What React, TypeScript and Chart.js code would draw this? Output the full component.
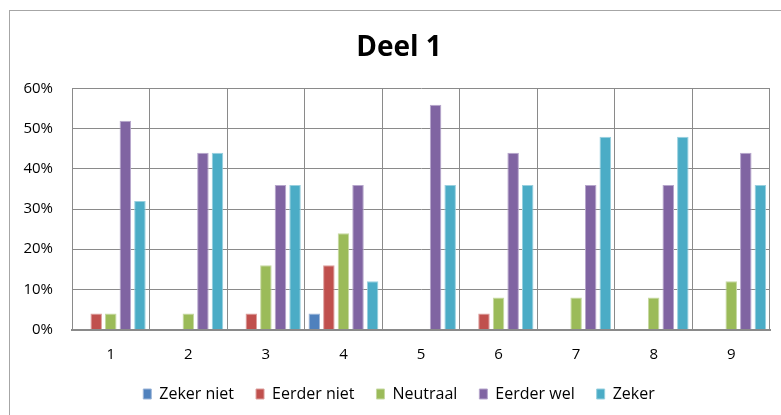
import React, { useEffect, useRef } from "react";
import { Chart, registerables } from "chart.js";

Chart.register(...registerables);

// Survey answers per question, in percent
const categories = ["1", "2", "3", "4", "5", "6", "7", "8", "9"];
const seriesNames = ["Zeker niet", "Eerder niet", "Neutraal", "Eerder wel", "Zeker"];
const zekerNiet = [0, 0, 0, 4, 0, 0, 0, 0, 0];
const eerderNiet = [4, 0, 4, 16, 0, 4, 0, 0, 0];
const neutraal = [4, 4, 16, 24, 0, 8, 8, 8, 12];
const eerderWel = [52, 44, 36, 36, 56, 44, 36, 36, 44];
const zeker = [32, 44, 36, 12, 36, 36, 48, 48, 36];
const yTicks = [0, 10, 20, 30, 40, 50, 60];

const fills = ["#4F81BD", "#C0504D", "#9BBB59", "#8064A2", "#4BACC6"];
const edges = ["#9db5d8", "#dc9e9c", "#c6d9a2", "#b6a6cc", "#98d0df"];

const FONT = "'Open Sans', 'Liberation Sans', sans-serif";

// The chart object is wider than the visible window; its right part is cut off.
const CANVAS_W = 798;
const CANVAS_H = 415;

export default function App() {
  const ref = useRef<HTMLCanvasElement | null>(null);

  useEffect(() => {
    if (!ref.current) return;
    const series = [zekerNiet, eerderNiet, neutraal, eerderWel, zeker];
    const chart = new Chart(ref.current, {
      type: "bar",
      data: {
        labels: categories,
        datasets: series.map((values, i) => ({
          label: seriesNames[i],
          data: values,
          backgroundColor: fills[i],
          borderColor: edges[i],
          borderWidth: 1,
          categoryPercentage: 0.94,
          barPercentage: 0.79,
          yAxisID: "y",
        })),
      },
      options: {
        animation: false,
        responsive: false,
        devicePixelRatio: 1,
        layout: { padding: { left: 0, right: 0, top: 0, bottom: 3 } },
        plugins: {
          title: {
            display: true,
            text: "Deel 1",
            color: "#000",
            font: { family: FONT, size: 28, weight: "bold", lineHeight: 1.2 },
            padding: { top: 31, bottom: 24 },
          },
          legend: {
            display: true,
            position: "bottom",
            labels: {
              color: "#000",
              font: { family: FONT, size: 16 },
              boxWidth: 8,
              boxHeight: 10,
              padding: 22,
            },
          },
          tooltip: { enabled: false },
        },
        scales: {
          x: {
            afterFit: (axis: any) => {
              axis.height = 34.5;
            },
            grid: { color: "#8a8a8a", lineWidth: 1, drawTicks: false, offset: true },
            border: { color: "#8a8a8a", width: 2 },
            ticks: { color: "#000", font: { family: FONT, size: 15 }, padding: 16 },
          },
          y: {
            position: "left",
            min: 0,
            max: 60,
            afterBuildTicks: (axis: any) => {
              axis.ticks = yTicks.map((v) => ({ value: v }));
            },
            afterFit: (axis: any) => {
              axis.width = 72;
            },
            grid: { color: "#8a8a8a", lineWidth: 1, drawTicks: false },
            border: { color: "#8a8a8a", width: 1 },
            ticks: {
              color: "#000",
              font: { family: FONT, size: 15 },
              padding: 19,
              callback: (v: any) => `${v}%`,
            },
          },
          // empty margin on the right of the plot area
          margin: {
            position: "right",
            display: true,
            min: 0,
            max: 60,
            afterFit: (axis: any) => {
              axis.width = 28;
            },
            grid: { display: false, drawTicks: false },
            border: { display: false },
            ticks: { display: false },
          },
        },
      },
    });
    return () => chart.destroy();
  }, []);

  return (
    <div
      style={{
        position: "fixed",
        left: 0,
        top: 0,
        width: 781,
        height: 415,
        background: "#fff",
        overflow: "hidden",
      }}
    >
      <div
        style={{
          position: "absolute",
          left: 9,
          top: 10,
          width: 800,
          height: 420,
          border: "1px solid #a6a6a6",
          boxSizing: "border-box",
        }}
      />
      <canvas
        ref={ref}
        width={CANVAS_W}
        height={CANVAS_H}
        style={{ position: "absolute", left: 0, top: 0 }}
      />
    </div>
  );
}
